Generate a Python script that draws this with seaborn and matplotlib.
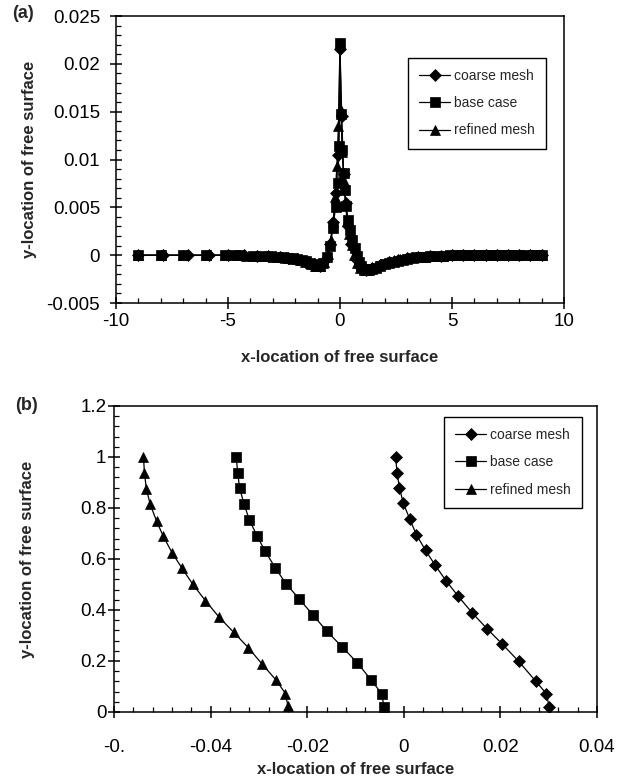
import numpy as np
import matplotlib
matplotlib.use('Agg')
import matplotlib.pyplot as plt
import seaborn as sns
from matplotlib.ticker import MultipleLocator, FixedLocator

# ---- panel (a): free surface profile along x ----
coarse_a_x = [-9.0, -7.9, -6.8, -5.85, -5.0, -4.3, -3.7, -3.2, -2.7, -2.3,
              -1.9, -1.5, -1.2, -0.9, -0.65, -0.45, -0.3, -0.18, -0.08, 0.0,
              0.08, 0.16, 0.25, 0.35, 0.5, 0.7, 0.9, 1.15, 1.45, 1.8,
              2.2, 2.6, 3.0, 3.5, 4.0, 4.5, 5.0, 5.5, 6.0, 6.5,
              7.0, 7.5, 8.0, 8.5, 9.0]
coarse_a_y = [0, 0, 0, 0, 0, -0.00003, -0.00008, -0.00013, -0.0002, -0.0003,
              -0.00045, -0.0007, -0.001, -0.0011, -0.0005, 0.0012, 0.0035, 0.0065, 0.0105, 0.0215,
              0.0145, 0.0085, 0.0055, 0.003, 0.0012, -0.0004, -0.0012, -0.0015, -0.0013, -0.001,
              -0.0007, -0.0005, -0.0003, -0.0002, -0.0001, -0.00005, 0, 0, 0, 0,
              0, 0, 0, 0, 0]

base_a_x = [-9.0, -8.0, -7.0, -6.0, -5.15, -4.7, -4.45, -3.9, -3.45, -3.1,
            -2.8, -2.55, -2.3, -2.1, -1.9, -1.7, -1.5, -1.35, -1.2, -1.05,
            -0.9, -0.75, -0.6, -0.45, -0.32, -0.2, -0.1, -0.04, 0.0, 0.04,
            0.1, 0.16, 0.22, 0.28, 0.36, 0.45, 0.55, 0.65, 0.75, 0.85,
            0.95, 1.05, 1.15, 1.3, 1.45, 1.6, 1.8, 2.0, 2.2, 2.4,
            2.6, 2.8, 3.0, 3.2, 3.4, 3.6, 3.8, 4.0, 4.3, 4.6,
            4.9, 5.2, 5.4, 5.6, 5.8, 6.0, 6.2, 6.4, 6.6, 6.8,
            7.0, 7.2, 7.4, 7.6, 7.8, 8.0, 8.2, 8.6, 8.8, 9.0]
base_a_y = [0, 0, 0, 0, 0, 0, -0.00002, -0.00005, -0.0001, -0.00012,
            -0.00016, -0.0002, -0.00026, -0.00032, -0.0004, -0.0005, -0.00065, -0.0008, -0.00095, -0.0011,
            -0.0011, -0.0008, -0.0002, 0.001, 0.0028, 0.005, 0.0075, 0.0114, 0.0222, 0.0148,
            0.011, 0.0086, 0.0068, 0.0051, 0.0037, 0.0026, 0.0016, 0.0007, -0.0001, -0.0007,
            -0.0011, -0.0014, -0.0015, -0.0015, -0.0014, -0.0013, -0.0011, -0.00095, -0.0008, -0.00068,
            -0.00056, -0.00046, -0.00038, -0.0003, -0.00024, -0.00019, -0.00015, -0.00012, -0.00008, -0.00005,
            -0.00003, 0, 0, 0, 0, 0, 0, 0, 0, 0,
            0, 0, 0, 0, 0, 0, 0, 0, 0, 0]

refined_a_x = [-9.0, -8.0, -7.0, -6.0, -5.15, -4.6, -4.2, -3.8, -3.4, -3.0,
               -2.7, -2.4, -2.1, -1.8, -1.55, -1.3, -1.1, -0.9, -0.72, -0.55,
               -0.4, -0.3, -0.22, -0.14, -0.07, 0.0, 0.05, 0.11, 0.17, 0.24,
               0.32, 0.42, 0.52, 0.64, 0.76, 0.9, 1.05, 1.2, 1.4, 1.6,
               1.85, 2.1, 2.4, 2.7, 3.0, 3.4, 3.8, 4.2, 4.6, 5.0,
               5.5, 6.0, 6.5, 7.0, 7.5, 8.0, 8.5, 9.0]
refined_a_y = [0, 0, 0, 0, 0, -0.00003, -0.00006, -0.00009, -0.00012, -0.00017,
               -0.00022, -0.00028, -0.00036, -0.0005, -0.00068, -0.0009, -0.0011, -0.0011, -0.0007, 0.0001,
               0.0016, 0.0035, 0.0061, 0.0093, 0.0135, 0.0222, 0.0152, 0.0108, 0.0078, 0.0055,
               0.0036, 0.0022, 0.0011, 0.0, -0.0008, -0.0013, -0.0015, -0.0015, -0.0013, -0.0011,
               -0.0009, -0.0007, -0.00055, -0.00042, -0.00032, -0.00022, -0.00015, -0.0001, -0.00006, -0.00003,
               0, 0, 0, 0, 0, 0, 0, 0]

# ---- panel (b): free surface position along the vertical ----
coarse_b_x = [-0.0017, -0.0014, -0.0009, -0.0001, 0.0012, 0.0026, 0.0045, 0.0065, 0.0088,
              0.0113, 0.0141, 0.0172, 0.0204, 0.0238, 0.0273, 0.0295, 0.0301]
coarse_b_y = [1.0, 0.939, 0.879, 0.818, 0.758, 0.695, 0.634, 0.575, 0.513,
              0.453, 0.390, 0.327, 0.266, 0.198, 0.121, 0.072, 0.021]
base_b_x = [-0.0347, -0.0344, -0.0340, -0.0331, -0.0320, -0.0304, -0.0287, -0.0266, -0.0244,
            -0.0216, -0.0188, -0.0159, -0.0127, -0.0096, -0.0067, -0.0046, -0.0041]
base_b_y = [1.0, 0.939, 0.878, 0.817, 0.754, 0.691, 0.630, 0.565, 0.503,
            0.442, 0.380, 0.316, 0.254, 0.192, 0.124, 0.072, 0.021]
refined_b_x = [-0.0539, -0.0537, -0.0533, -0.0525, -0.0512, -0.0498, -0.0480, -0.0459, -0.0437,
               -0.0411, -0.0383, -0.0352, -0.0322, -0.0294, -0.0264, -0.0245, -0.0240]
refined_b_y = [1.0, 0.937, 0.874, 0.814, 0.749, 0.689, 0.625, 0.563, 0.501,
               0.437, 0.373, 0.312, 0.252, 0.189, 0.124, 0.072, 0.023]

labels = ['coarse mesh', 'base case', 'refined mesh']
markers = ['D', 's', '^']
msizes_a = [6.5, 7.5, 7.5]
msizes_b = [6, 7, 7.5]

a_ticks = [-0.005, 0, 0.005, 0.01, 0.015, 0.02, 0.025]
a_ticklabels = ['-0.005', '0', '0.005', '0.01', '0.015', '0.02', '0.025']
a_xticks = [-10, -5, 0, 5, 10]
a_xticklabels = ['-10', '-5', '0', '5', '10']
b_xticks = [-0.06, -0.04, -0.02, 0, 0.02, 0.04]
b_xticklabels = ['-0.', '-0.04', '-0.02', '0', '0.02', '0.04']
b_yticks = [0, 0.2, 0.4, 0.6, 0.8, 1.0, 1.2]
b_yticklabels = ['0', '0.2', '0.4', '0.6', '0.8', '1', '1.2']

sns.set_theme(style='white')
plt.rcParams['font.family'] = ['Liberation Sans', 'DejaVu Sans']
plt.rcParams['axes.unicode_minus'] = False

fig = plt.figure(figsize=(6.19, 7.77), dpi=100)
ax1 = fig.add_axes([0.1874, 0.61, 0.7237, 0.3694])
ax2 = fig.add_axes([0.1842, 0.0837, 0.7803, 0.3938])

series_a = [(coarse_a_x, coarse_a_y), (base_a_x, base_a_y), (refined_a_x, refined_a_y)]
series_b = [(coarse_b_x, coarse_b_y), (base_b_x, base_b_y), (refined_b_x, refined_b_y)]

for ax, series, msizes in [(ax1, series_a, msizes_a), (ax2, series_b, msizes_b)]:
    for (xs, ys), lab, mk, ms in zip(series, labels, markers, msizes):
        sns.lineplot(x=xs, y=ys, ax=ax, sort=False, estimator=None, color='black',
                     lw=0.9, marker=mk, markersize=ms, markeredgecolor='black',
                     markerfacecolor='black', markeredgewidth=0.5, label=lab, legend=False)

# panel (a) axes
ax1.set_xlim(-10, 10)
ax1.set_ylim(-0.005, 0.025)
ax1.xaxis.set_major_locator(FixedLocator(a_xticks))
ax1.set_xticklabels(a_xticklabels)
ax1.xaxis.set_minor_locator(MultipleLocator(1))
ax1.yaxis.set_major_locator(FixedLocator(a_ticks))
ax1.set_yticklabels(a_ticklabels)
ax1.yaxis.set_minor_locator(MultipleLocator(0.001))

# panel (b) axes
ax2.set_xlim(-0.06, 0.04)
ax2.set_ylim(0, 1.2)
ax2.xaxis.set_major_locator(FixedLocator(b_xticks))
ax2.set_xticklabels(b_xticklabels)
ax2.xaxis.set_minor_locator(MultipleLocator(0.004))
ax2.yaxis.set_major_locator(FixedLocator(b_yticks))
ax2.set_yticklabels(b_yticklabels)
ax2.yaxis.set_minor_locator(MultipleLocator(0.04))

for ax in [ax1, ax2]:
    for sp in ax.spines.values():
        sp.set_color('black')
        sp.set_linewidth(1.1)
    ax.tick_params(which='major', direction='inout', length=9, width=1.1,
                   labelsize=13.5, colors='black')
    ax.tick_params(which='minor', direction='in', length=3.5, width=0.9, colors='black')
    ax.tick_params(bottom=True, left=True, top=False, right=False, which='both')
    ax.set_xlabel('x-location of free surface', fontsize=12, fontweight='bold')
    ax.set_ylabel('y-location of free surface', fontsize=12, fontweight='bold')
    ax.grid(False)

ax1.tick_params(axis='x', which='major', pad=3)
ax1.tick_params(axis='y', which='major', pad=7)
ax2.tick_params(axis='x', which='major', pad=15)
ax2.tick_params(axis='y', which='major', pad=1)

ax1.xaxis.set_label_coords(0.5, -0.165)
ax1.yaxis.set_label_coords(-0.177, 0.5)
ax2.xaxis.set_label_coords(0.5, -0.163)
ax2.yaxis.set_label_coords(-0.163, 0.5)

leg_kw = dict(fontsize=10, frameon=True, fancybox=False, edgecolor='black', framealpha=1,
              handlelength=2.2, handletextpad=0.3, labelspacing=0.95, borderpad=0.8,
              numpoints=1, borderaxespad=0)
l1 = ax1.legend(loc='upper right', bbox_to_anchor=(546 / 619, 1 - 58 / 777),
                bbox_transform=fig.transFigure, **leg_kw)
l2 = ax2.legend(loc='upper right', bbox_to_anchor=(582 / 619, 1 - 417 / 777),
                bbox_transform=fig.transFigure, **leg_kw)
for lg in [l1, l2]:
    lg.get_frame().set_linewidth(1.0)

fig.text(23 / 619, 1 - 14 / 777, '(a)', ha='center', va='center', fontsize=13, fontweight='bold')
fig.text(26 / 619, 1 - 406 / 777, '(b)', ha='center', va='center', fontsize=13, fontweight='bold')

fig.savefig('out.png', dpi=100)
